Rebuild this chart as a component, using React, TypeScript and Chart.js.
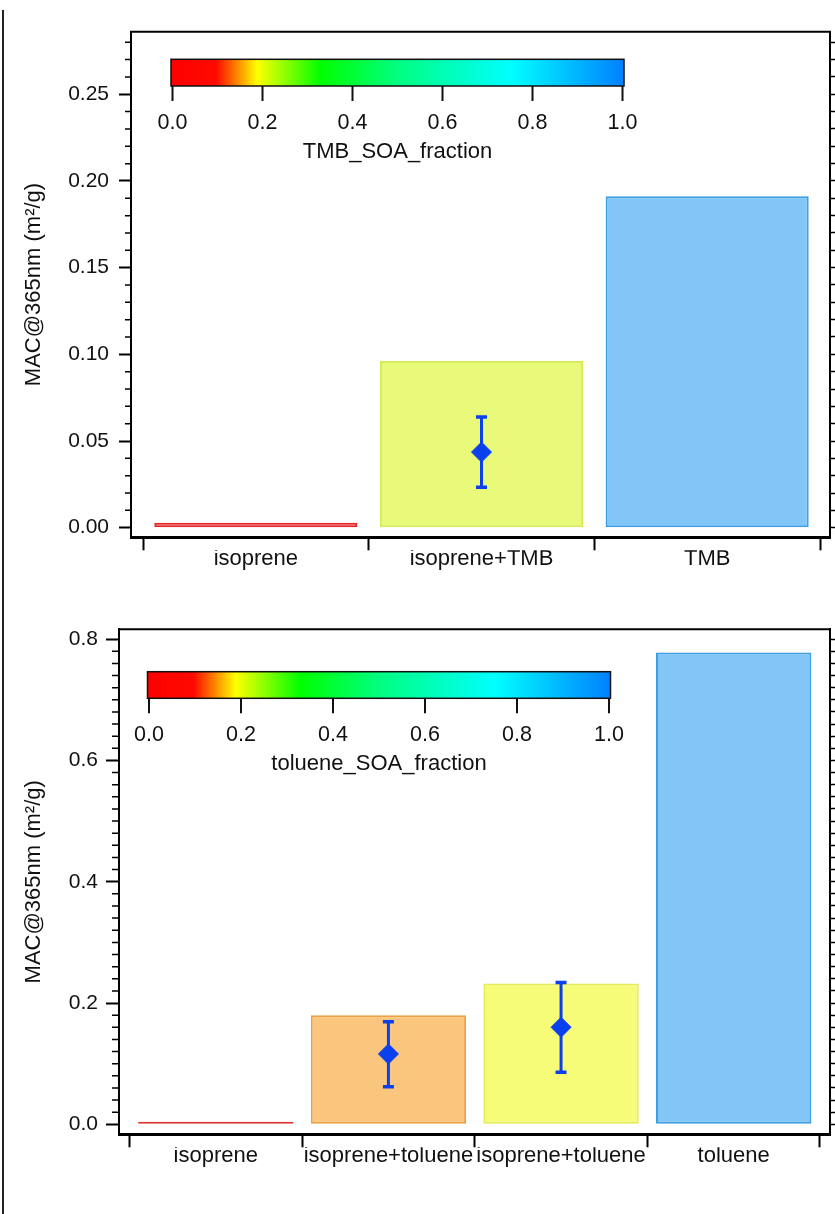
import React, { useEffect, useRef } from 'react';
import { Chart, registerables } from 'chart.js';

Chart.register(...registerables);

const FONT_FAMILY = "'Liberation Sans', Arial, Helvetica, sans-serif";
const TEXT_COLOR = '#111111';
const AXIS_COLOR = '#000000';
const MARKER_COLOR = '#0b40ee';
const Y_TITLE = 'MAC@365nm (m\u00B2/g)';

// ---------- top panel: isoprene / TMB ----------
const tmbCategories = ['isoprene', 'isoprene+TMB', 'TMB'];
const tmbMAC = [0.0029, 0.0962, 0.1912];
const tmbMarkerMAC = [null, 0.0436, null];
const tmbErrLow = [null, 0.0234, null];
const tmbErrHigh = [null, 0.0638, null];
const tmbFill = ['#f27a7a', '#e9fa7a', '#82c6f8'];
const tmbBorder = ['#e3262c', '#d8eb58', '#3d9fe3'];
const tmbMajorTicks = [0, 0.05, 0.1, 0.15, 0.2, 0.25];
const tmbColorbarTitle = 'TMB_SOA_fraction';

// ---------- bottom panel: isoprene / toluene ----------
const tolCategories = ['isoprene', 'isoprene+toluene', 'isoprene+toluene', 'toluene'];
const tolMAC = [0.004, 0.18, 0.232, 0.778];
const tolMarkerMAC = [null, 0.116, 0.16, null];
const tolErrLow = [null, 0.062, 0.086, null];
const tolErrHigh = [null, 0.169, 0.234, null];
const tolFill = ['#e83232', '#fac57c', '#f6fb78', '#82c6f8'];
const tolBorder = ['#e0302f', '#f0a042', '#e6ec55', '#3d9fe3'];
const tolMajorTicks = [0, 0.2, 0.4, 0.6, 0.8];
const tolColorbarTitle = 'toluene_SOA_fraction';

// ---------- colour bar ----------
const colorbarTicks = [0, 0.2, 0.4, 0.6, 0.8, 1.0];
const colorbarStops: [number, string][] = [
  [0, '#ff0000'],
  [0.1, '#ff0a00'],
  [0.19, '#ffff00'],
  [0.33, '#00ff00'],
  [0.5, '#00ff80'],
  [0.75, '#00ffff'],
  [1, '#0080ff'],
];

function steps(from: number, to: number, step: number): number[] {
  const out: number[] = [];
  const n = Math.round((to - from) / step);
  for (let k = 0; k <= n; k++) out.push(+(from + k * step).toFixed(6));
  return out;
}

Chart.defaults.font.family = FONT_FAMILY;
Chart.defaults.color = TEXT_COLOR;

type PanelSpec = {
  categories: string[];
  values: number[];
  marker: (number | null)[];
  errLow: (number | null)[];
  errHigh: (number | null)[];
  fill: string[];
  border: string[];
  majorTicks: number[];
  minorTicks: number[];
  decimals: number;
  yMin: number;
  yMax: number;
  xMin: number;
  xMax: number;
  padTop: number;
  axisWidth: number;
  labelBoxHeight: number;
  majorLen: number;
  minorLen: number;
  tickPad: number;
  colorbar: { x: number; y: number; w: number; h: number; title: string };
};

function makeDecorPlugin(p: PanelSpec) {
  return {
    id: 'decor',
    afterDatasetsDraw(chart: any) {
      const { ctx } = chart;
      const xs = chart.scales.x;
      const ys = chart.scales.y;
      ctx.save();
      ctx.strokeStyle = MARKER_COLOR;
      p.errLow.forEach((lo, i) => {
        const hi = p.errHigh[i];
        if (lo == null || hi == null) return;
        const px = xs.getPixelForValue(i);
        const pl = ys.getPixelForValue(lo);
        const ph = ys.getPixelForValue(hi);
        ctx.lineWidth = 3;
        ctx.beginPath();
        ctx.moveTo(px, pl);
        ctx.lineTo(px, ph);
        ctx.stroke();
        ctx.lineWidth = 3.5;
        ctx.beginPath();
        ctx.moveTo(px - 5.5, pl);
        ctx.lineTo(px + 5.5, pl);
        ctx.moveTo(px - 5.5, ph);
        ctx.lineTo(px + 5.5, ph);
        ctx.stroke();
      });
      ctx.restore();
    },
    afterDraw(chart: any) {
      const { ctx, chartArea: ca } = chart;
      const ys = chart.scales.y;
      ctx.save();
      // top frame
      ctx.strokeStyle = AXIS_COLOR;
      ctx.lineWidth = 2;
      ctx.beginPath();
      ctx.moveTo(ca.left - 1, ca.top);
      ctx.lineTo(ca.right + 1, ca.top);
      ctx.stroke();
      // left minor ticks
      ctx.lineWidth = 1.5;
      ctx.beginPath();
      p.minorTicks.forEach((v) => {
        if (p.majorTicks.some((m) => Math.abs(m - v) < 1e-9)) return;
        const py = ys.getPixelForValue(v);
        ctx.moveTo(ca.left, py);
        ctx.lineTo(ca.left - p.minorLen, py);
      });
      ctx.stroke();
      // colour bar
      const cb = p.colorbar;
      const g = ctx.createLinearGradient(cb.x, 0, cb.x + cb.w, 0);
      colorbarStops.forEach(([pos, col]) => g.addColorStop(pos, col));
      ctx.fillStyle = g;
      ctx.fillRect(cb.x, cb.y, cb.w, cb.h);
      ctx.strokeStyle = '#111';
      ctx.lineWidth = 1.5;
      ctx.strokeRect(cb.x, cb.y, cb.w, cb.h);
      ctx.lineWidth = 2;
      ctx.beginPath();
      const inner = cb.w - 3;
      colorbarTicks.forEach((t) => {
        const px = cb.x + 1.5 + t * inner;
        ctx.moveTo(px, cb.y + cb.h);
        ctx.lineTo(px, cb.y + cb.h + 15);
      });
      ctx.stroke();
      ctx.fillStyle = TEXT_COLOR;
      ctx.textAlign = 'center';
      ctx.textBaseline = 'middle';
      ctx.font = `21.5px ${FONT_FAMILY}`;
      colorbarTicks.forEach((t) => {
        const px = cb.x + 1.5 + t * inner;
        ctx.fillText(t.toFixed(1), px, cb.y + cb.h + 37);
      });
      ctx.font = `22px ${FONT_FAMILY}`;
      ctx.fillText(cb.title, cb.x + cb.w / 2, cb.y + cb.h + 66);
      ctx.restore();
    },
  };
}

function buildChart(canvas: HTMLCanvasElement, p: PanelSpec) {
  const barData = p.values.map((v, i) => ({ x: i, y: v }));
  const markerData = p.marker
    .map((v, i) => (v == null ? null : { x: i, y: v }))
    .filter((d) => d !== null);
  const boundaries = steps(-0.5, p.categories.length - 0.5, 1);
  const centers = p.categories.map((_, i) => i);
  return new Chart(canvas, {
    type: 'bar',
    data: {
      datasets: [
        {
          type: 'line',
          data: markerData as any,
          showLine: false,
          pointStyle: 'rectRot',
          pointRadius: 10,
          pointHoverRadius: 10,
          backgroundColor: MARKER_COLOR,
          borderColor: MARKER_COLOR,
          borderWidth: 1,
          xAxisID: 'x',
          yAxisID: 'y',
          order: 0,
        } as any,
        {
          type: 'bar',
          data: barData as any,
          backgroundColor: p.fill,
          borderColor: p.border,
          borderWidth: 2,
          borderSkipped: false,
          barPercentage: 0.9,
          categoryPercentage: 1,
          xAxisID: 'x',
          yAxisID: 'y',
          order: 1,
        } as any,
      ],
    },
    options: {
      responsive: false,
      animation: false,
      devicePixelRatio: 1,
      events: [],
      layout: { autoPadding: false, padding: { top: p.padTop, left: 0, right: 0, bottom: 0 } },
      plugins: { legend: { display: false }, tooltip: { enabled: false } },
      scales: {
        x: {
          type: 'linear',
          position: 'bottom',
          min: p.xMin,
          max: p.xMax,
          offset: false,
          afterBuildTicks: (s: any) => {
            s.ticks = boundaries.map((v) => ({ value: v }));
          },
          ticks: { display: false },
          grid: {
            offset: false,
            drawOnChartArea: false,
            drawTicks: true,
            tickLength: 13,
            tickWidth: 2,
            tickColor: AXIS_COLOR,
          },
          border: { display: true, color: AXIS_COLOR, width: 3 },
          afterFit: (s: any) => {
            s.height = 13;
          },
        },
        x2: {
          type: 'linear',
          position: 'bottom',
          min: p.xMin,
          max: p.xMax,
          offset: false,
          afterBuildTicks: (s: any) => {
            s.ticks = centers.map((v) => ({ value: v }));
          },
          ticks: {
            autoSkip: false,
            maxRotation: 0,
            minRotation: 0,
            padding: -5,
            font: { size: 22 },
            color: TEXT_COLOR,
            callback: (v: any) => p.categories[Math.round(Number(v))] ?? '',
          },
          grid: { display: false, drawTicks: false, offset: false },
          border: { display: false },
          afterFit: (s: any) => {
            s.height = p.labelBoxHeight;
          },
        },
        y: {
          type: 'linear',
          position: 'left',
          min: p.yMin,
          max: p.yMax,
          afterBuildTicks: (s: any) => {
            s.ticks = p.majorTicks.map((v) => ({ value: v }));
          },
          ticks: {
            autoSkip: false,
            padding: p.tickPad,
            font: { size: 21 },
            color: TEXT_COLOR,
            callback: (v: any) => Number(v).toFixed(p.decimals),
          },
          grid: {
            drawOnChartArea: false,
            tickLength: p.majorLen,
            tickWidth: 2,
            tickColor: AXIS_COLOR,
          },
          border: { display: true, color: AXIS_COLOR, width: 2 },
          title: {
            display: true,
            text: Y_TITLE,
            font: { size: 22 },
            color: TEXT_COLOR,
            padding: { top: 21, bottom: 0 },
          },
          afterFit: (s: any) => {
            s.width = p.axisWidth;
          },
        },
        y2: {
          type: 'linear',
          position: 'right',
          min: p.yMin,
          max: p.yMax,
          afterBuildTicks: (s: any) => {
            s.ticks = p.minorTicks.map((v) => ({ value: v }));
          },
          ticks: { display: false },
          grid: {
            drawOnChartArea: false,
            tickLength: 5,
            tickWidth: 1.5,
            tickColor: AXIS_COLOR,
          },
          border: { display: true, color: AXIS_COLOR, width: 2 },
          afterFit: (s: any) => {
            s.width = 5;
          },
        },
      },
    } as any,
    plugins: [makeDecorPlugin(p) as any],
  });
}

const topSpec: PanelSpec = {
  categories: tmbCategories,
  values: tmbMAC,
  marker: tmbMarkerMAC,
  errLow: tmbErrLow,
  errHigh: tmbErrHigh,
  fill: tmbFill,
  border: tmbBorder,
  majorTicks: tmbMajorTicks,
  minorTicks: steps(0, 0.28, 0.01),
  decimals: 2,
  yMin: -0.00554,
  yMax: 0.2861,
  xMin: -0.5532,
  xMax: 2.5443,
  padTop: 31.7,
  axisWidth: 131,
  labelBoxHeight: 49.7,
  majorLen: 12,
  minorLen: 6,
  tickPad: 10,
  colorbar: { x: 171, y: 59.3, w: 453, h: 26.7, title: tmbColorbarTitle },
};

const bottomSpec: PanelSpec = {
  categories: tolCategories,
  values: tolMAC,
  marker: tolMarkerMAC,
  errLow: tolErrLow,
  errHigh: tolErrHigh,
  fill: tolFill,
  border: tolBorder,
  majorTicks: tolMajorTicks,
  minorTicks: steps(0, 0.8, 0.02),
  decimals: 1,
  yMin: -0.0165,
  yMax: 0.8163,
  xMin: -0.5608,
  xMax: 3.558,
  padTop: 29.3,
  axisWidth: 119,
  labelBoxHeight: 66.7,
  majorLen: 13,
  minorLen: 7,
  tickPad: 8,
  colorbar: { x: 147.5, y: 71.7, w: 463, h: 26.6, title: tolColorbarTitle },
};

export default function App() {
  const topRef = useRef<HTMLCanvasElement>(null);
  const bottomRef = useRef<HTMLCanvasElement>(null);

  useEffect(() => {
    const c1 = buildChart(topRef.current as HTMLCanvasElement, topSpec);
    const c2 = buildChart(bottomRef.current as HTMLCanvasElement, bottomSpec);
    return () => {
      c1.destroy();
      c2.destroy();
    };
  }, []);

  return (
    <div
      style={{
        position: 'absolute',
        left: 0,
        top: 0,
        width: 835,
        height: 1214,
        background: '#ffffff',
        overflow: 'hidden',
      }}
    >
      <div
        style={{
          position: 'absolute',
          left: 2,
          top: 10,
          width: 2,
          height: 1204,
          background: '#222222',
        }}
      />
      <canvas
        ref={topRef}
        width={835}
        height={600}
        style={{ position: 'absolute', left: 0, top: 0, width: 835, height: 600 }}
      />
      <canvas
        ref={bottomRef}
        width={835}
        height={614}
        style={{ position: 'absolute', left: 0, top: 600, width: 835, height: 614 }}
      />
    </div>
  );
}
